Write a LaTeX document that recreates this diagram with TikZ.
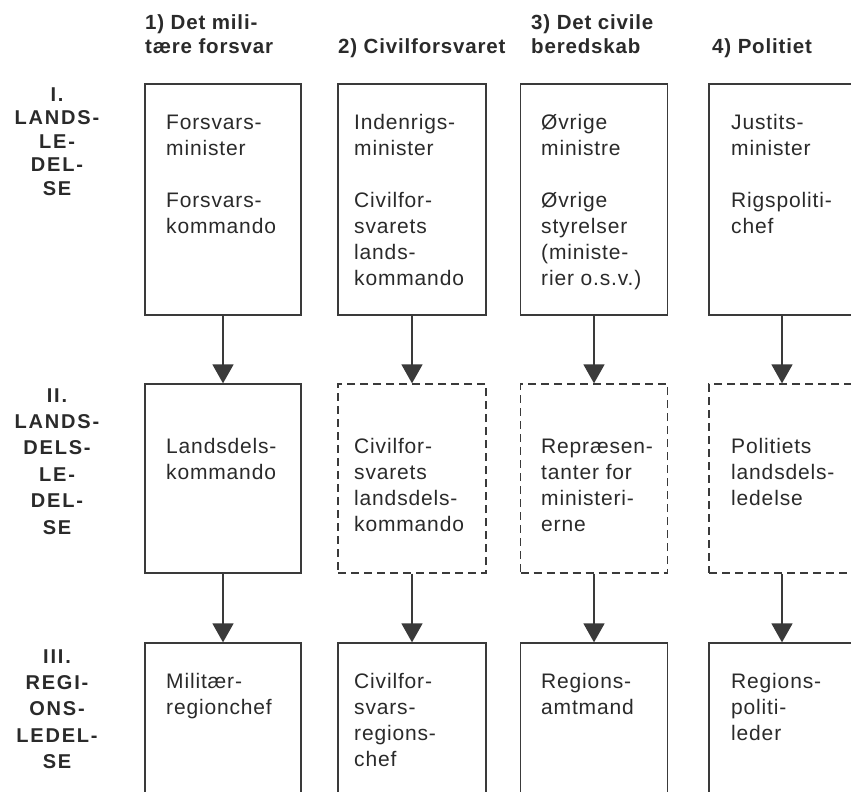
\documentclass[tikz,border=0pt]{standalone}
\usepackage{fontspec}
\setmainfont{Liberation Sans}
\newfontfamily\bxfont[LetterSpace=4]{Liberation Sans}
\newfontfamily\hdfont[LetterSpace=4]{Liberation Sans}
\newfontfamily\lbfont[LetterSpace=9]{Liberation Sans}
\usetikzlibrary{arrows.meta}
\definecolor{ink}{HTML}{2A2A2A}
\definecolor{lin}{HTML}{3A3A3A}
\newcommand\tblock[1]{\parbox[t]{160pt}{\raggedright #1}}
\newcommand\cblock[1]{\parbox[t]{120pt}{\centering #1}}
\tikzset{
 box/.style={draw=lin, line width=1.3pt, inner sep=0pt, rectangle},
 dbox/.style={box, dash pattern=on 8pt off 5pt},
 conn/.style={draw=lin, line width=1.6pt, -{Triangle[width=21pt,length=19pt]}},
 txt/.style={anchor=base west, inner sep=0pt, text=ink, font=\bxfont\fontsize{21}{26}\selectfont},
 hd/.style={anchor=base west, inner sep=0pt, text=ink, font=\hdfont\bfseries\fontsize{20.5}{23.5}\selectfont},
 lbl/.style={anchor=base, inner sep=0pt, text=ink, font=\lbfont\bfseries\fontsize{20}{26.4}\selectfont},
}
\begin{document}
\begin{tikzpicture}[x=1pt,y=-1pt]
\useasboundingbox (0,0) rectangle (851,792);
\clip (0,0) rectangle (851,792);
\fill[white] (0,0) rectangle (851,792);

% headers
\node[hd] (h1) at (145,30) {\tblock{1) Det mili-\\tære forsvar}};
\node[hd] (h2) at (338,53) {2) Civilforsvaret};
\node[hd] (h3) at (531,30) {\tblock{3) Det civile\\beredskab}};
\node[hd] (h4) at (712,53) {4) Politiet};

% level labels
\node[lbl, font=\lbfont\bfseries\fontsize{20}{23.5}\selectfont] (l1) at (57,101) {\cblock{I.\\LANDS-\\LE-\\DEL-\\SE}};
\node[lbl] (l2) at (57,402) {\cblock{II.\\LANDS-\\DELS-\\LE-\\DEL-\\SE}};
\node[lbl] (l3) at (57,663) {\cblock{III.\\REGI-\\ONS-\\LEDEL-\\SE}};

% row I boxes
\node[box, minimum width=156pt, minimum height=231pt] (a1) at (223,199.5) {};
\node[box, minimum width=148pt, minimum height=231pt] (b1) at (412,199.5) {};
\node[box, minimum width=147pt, minimum height=231pt] (c1) at (594,199.5) {};
\node[box, minimum width=146pt, minimum height=231pt] (d1) at (782,199.5) {};
% row II boxes
\node[box,  minimum width=156pt, minimum height=189pt] (a2) at (223,478.5) {};
\node[dbox, minimum width=148pt, minimum height=189pt] (b2) at (412,478.5) {};
\node[dbox, minimum width=147pt, minimum height=189pt] (c2) at (594,478.5) {};
\node[dbox, minimum width=146pt, minimum height=189pt] (d2) at (782,478.5) {};
% row III boxes
\node[box, minimum width=156pt, minimum height=160pt] (a3) at (223,723) {};
\node[box, minimum width=148pt, minimum height=160pt] (b3) at (412,723) {};
\node[box, minimum width=147pt, minimum height=160pt] (c3) at (594,723) {};
\node[box, minimum width=146pt, minimum height=160pt] (d3) at (782,723) {};

% texts row I
\node[txt] (ta1) at (166,129) {\tblock{Forsvars-\\minister\\[26pt]Forsvars-\\kommando}};
\node[txt] (tb1) at (354,129) {\tblock{Indenrigs-\\minister\\[26pt]Civilfor-\\svarets\\lands-\\kommando}};
\node[txt] (tc1) at (541,129) {\tblock{Øvrige\\ministre\\[26pt]Øvrige\\styrelser\\(ministe-\\rier o.s.v.)}};
\node[txt] (td1) at (731,129) {\tblock{Justits-\\minister\\[26pt]Rigspoliti-\\chef}};
% texts row II
\node[txt] (ta2) at (166,453) {\tblock{Landsdels-\\kommando}};
\node[txt] (tb2) at (354,453) {\tblock{Civilfor-\\svarets\\landsdels-\\kommando}};
\node[txt] (tc2) at (541,453) {\tblock{Repræsen-\\tanter for\\ministeri-\\erne}};
\node[txt] (td2) at (731,453) {\tblock{Politiets\\landsdels-\\ledelse}};
% texts row III
\node[txt] (ta3) at (166,688) {\tblock{Militær-\\regionchef}};
\node[txt] (tb3) at (354,688) {\tblock{Civilfor-\\svars-\\regions-\\chef}};
\node[txt] (tc3) at (541,688) {\tblock{Regions-\\amtmand}};
\node[txt] (td3) at (731,688) {\tblock{Regions-\\politi-\\leder}};

% connectors
\foreach \c in {a,b,c,d}{
  \draw[conn] (\c1.south) -- (\c2.north);
  \draw[conn] (\c2.south) -- (\c3.north);
}
\end{tikzpicture}
\end{document}
